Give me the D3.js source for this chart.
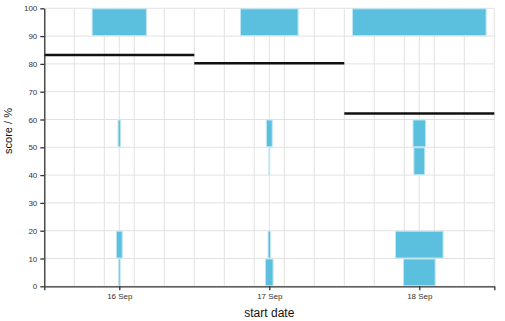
<!DOCTYPE html>
<html><head><meta charset="utf-8">
<script src="https://cdn.jsdelivr.net/npm/d3@7"></script>
<style>
body{margin:0;background:#fff;}
svg{display:block;font-family:"Liberation Sans",Arial,sans-serif;}
</style></head>
<body><svg id="c" width="505" height="321"></svg>
<script>
const days = ["2016-09-16", "2016-09-17", "2016-09-18"];
const binStarts = [0, 10, 20, 30, 40, 50, 60, 70, 80, 90];
const counts16 = [2, 7, 0, 0, 0, 3, 0, 0, 0, 65];
const counts17 = [9, 3, 0, 0, 1, 7, 0, 0, 0, 69];
const counts18 = [38, 57, 0, 0, 13, 15, 0, 0, 0, 160];
const meanScores = [83.2, 80.2, 62.2];
const yTicks = [0, 10, 20, 30, 40, 50, 60, 70, 80, 90, 100];

const parse = d3.timeParse("%Y-%m-%d");
const dayDates = days.map(parse);
const allCounts = [counts16, counts17, counts18];

const svg = d3.select("#c");
const m = {l: 44.3, r: 494.3, t: 8.3, b: 286.3};
const HALF = 12 * 3600e3;

const x = d3.scaleTime()
  .domain([new Date(+dayDates[0] - HALF), new Date(+dayDates[2] + HALF)])
  .range([m.l, m.r]);
const y = d3.scaleLinear().domain([0, 100]).range([m.b, m.t]);
const w = d3.scaleLinear().domain([0, 1]).range([0, 0.835]);

// grid
const g = svg.append("g");
const step = 0.2 * 24 * 3600e3;
const d0 = +x.domain()[0];
const gridX = d3.range(0, 16).map(i => new Date(d0 + i * step)).concat(dayDates);
g.selectAll("line.vx").data(gridX).join("line")
  .attr("x1", d => x(d)).attr("x2", d => x(d))
  .attr("y1", m.t).attr("y2", m.b)
  .attr("stroke", "#e2e2e2").attr("stroke-width", 1);
g.selectAll("line.hy").data(yTicks).join("line")
  .attr("x1", m.l).attr("x2", m.r)
  .attr("y1", d => y(d)).attr("y2", d => y(d))
  .attr("stroke", "#e2e2e2").attr("stroke-width", 1);

// bars
const bars = [];
dayDates.forEach((d, i) => {
  allCounts[i].forEach((c, j) => {
    if (c > 0) bars.push({date: d, lo: binStarts[j], hi: binStarts[j] + 10, c});
  });
});
svg.append("g").selectAll("rect").data(bars).join("rect")
  .attr("x", d => x(d.date) - w(d.c) / 2)
  .attr("width", d => w(d.c))
  .attr("y", d => y(d.hi) + 0.5)
  .attr("height", d => y(d.lo) - y(d.hi) - 1)
  .attr("fill", "#5bc0de")
  .attr("stroke", "#bfe6f2")
  .attr("stroke-width", 1);

// mean lines
svg.append("g").selectAll("line").data(dayDates).join("line")
  .attr("x1", d => x(new Date(+d - HALF)))
  .attr("x2", d => x(new Date(+d + HALF)))
  .attr("y1", (d, i) => y(meanScores[i]))
  .attr("y2", (d, i) => y(meanScores[i]))
  .attr("stroke", "#111").attr("stroke-width", 2.5);

// axes
const xAxis = svg.append("g").attr("transform", `translate(0,${m.b})`)
  .call(d3.axisBottom(x).tickValues(dayDates).tickFormat(d3.timeFormat("%-d %b")).tickSize(4).tickSizeOuter(4));
const yAxis = svg.append("g").attr("transform", `translate(${m.l},0)`)
  .call(d3.axisLeft(y).tickValues(yTicks).tickSize(4).tickSizeOuter(0));
[xAxis, yAxis].forEach(a => {
  a.select(".domain").attr("stroke", "#333").attr("stroke-width", 1.3);
  a.selectAll(".tick line").attr("stroke", "#333").attr("stroke-width", 1.3);
  a.selectAll(".tick text").attr("fill", "#333").attr("font-size", 8)
    .attr("font-family", "'Liberation Sans',Arial,sans-serif");
});

svg.append("text").attr("x", (m.l + m.r) / 2).attr("y", 317)
  .attr("text-anchor", "middle").attr("font-size", 12).attr("fill", "#111")
  .text("start date");
svg.append("text").attr("transform", "translate(12,131) rotate(-90)")
  .attr("text-anchor", "middle").attr("font-size", 11).attr("fill", "#111")
  .text("score / %");
</script></body></html>
